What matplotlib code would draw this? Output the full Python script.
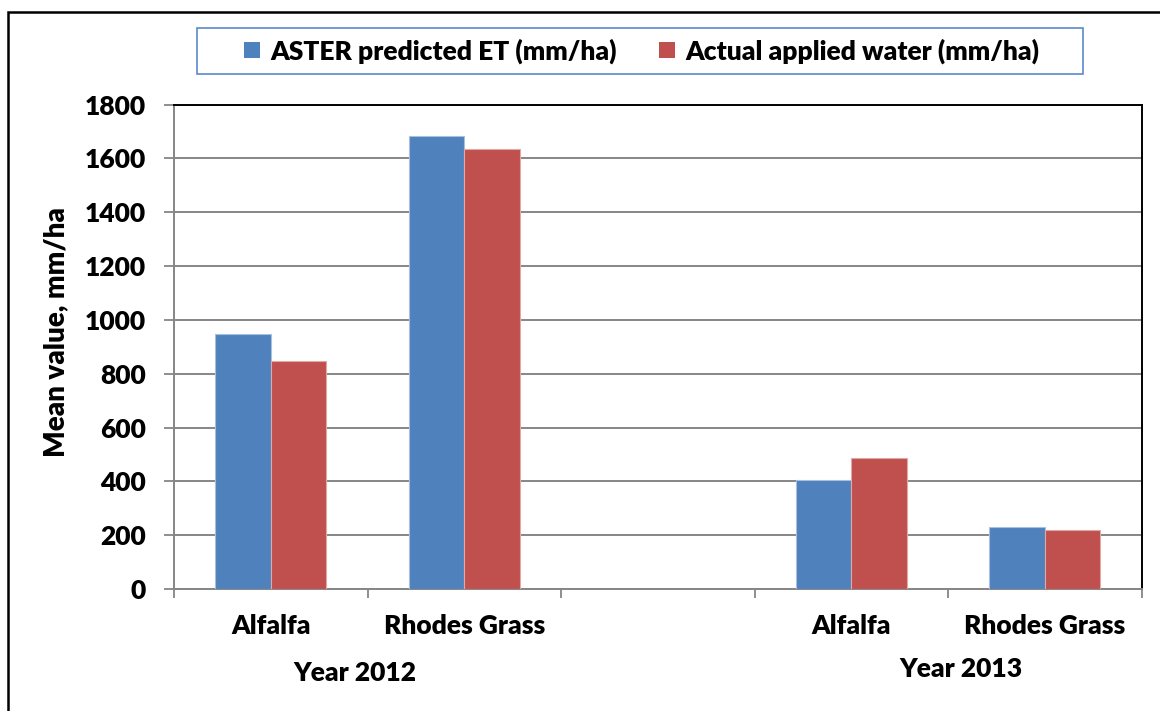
import matplotlib
matplotlib.use("Agg")
import matplotlib.pyplot as plt
from matplotlib.patches import Rectangle, Patch
import numpy as np

# mean values per crop, 2012 then 2013 (slot 3 is an empty spacer)
crops = ["Alfalfa", "Rhodes Grass", "", "Alfalfa", "Rhodes Grass"]
aster_et = [948, 1683, np.nan, 406, 230]
applied_water = [848, 1634, np.nan, 487, 220]
years = ["Year 2012", "Year 2013"]
series_names = ["ASTER predicted ET (mm/ha)", "Actual applied water (mm/ha)"]
yticks = [0, 200, 400, 600, 800, 1000, 1200, 1400, 1600, 1800]

WEIGHT = "heavy"
plt.rcParams["font.family"] = ["Lato", "DejaVu Sans"]
plt.rcParams["font.weight"] = WEIGHT

BLUE = "#4F81BD"
RED = "#C0504D"
GRID = "#868686"
FS = 19

fig = plt.figure(figsize=(11.6, 7.11), dpi=100)
W, H = 1160, 711
ax = fig.add_axes([174 / W, 1 - 589 / H, (1141.5 - 174) / W, (589 - 104.6) / H])

x = np.arange(len(crops)) + 0.5
bw = 0.286
ax.bar(x - bw / 2, aster_et, bw, color=BLUE, edgecolor="#A7C0DE", linewidth=0.8, zorder=3)
ax.bar(x + bw / 2, applied_water, bw, color=RED, edgecolor="#E0A8A6", linewidth=0.8, zorder=3)

ax.set_xlim(0, len(crops))
ax.set_ylim(0, 1800)
ax.set_yticks(yticks)
ax.set_yticklabels([str(v) for v in yticks], fontsize=FS, fontweight=WEIGHT)
ax.yaxis.grid(True, color=GRID, linewidth=1.4, zorder=0)
ax.set_axisbelow(True)

# boundary ticks between categories, labels at the slot centres
ax.set_xticks(np.arange(len(crops) + 1))
ax.set_xticklabels([])
ax.set_xticks(x, minor=True)
ax.set_xticklabels(crops, minor=True, fontsize=FS, fontweight=WEIGHT)
ax.tick_params(axis="x", which="minor", length=0, pad=18)
ax.tick_params(axis="x", which="major", length=6.5, color=GRID, width=1.3)
ax.tick_params(axis="y", length=7, color=GRID, width=1.3, pad=13)

for side in ("left", "bottom"):
    ax.spines[side].set_color(GRID)
    ax.spines[side].set_linewidth(1.4)
for side in ("top", "right"):
    ax.spines[side].set_color("black")
    ax.spines[side].set_linewidth(1.4)

ax.set_ylabel("Mean value, mm/ha", fontsize=20, fontweight=WEIGHT)
ax.yaxis.set_label_coords(-0.108, 0.53)

fig.text(355 / W, 1 - 673 / H, years[0], ha="center", va="center", fontsize=FS, fontweight=WEIGHT)
fig.text(961 / W, 1 - 669 / H, years[1], ha="center", va="center", fontsize=FS, fontweight=WEIGHT)

handles = [Patch(facecolor=BLUE), Patch(facecolor=RED)]
leg = fig.legend(handles, series_names, loc="center", ncol=2,
                 bbox_to_anchor=(642 / W, 1 - 51 / H), fontsize=FS,
                 frameon=False, handlelength=0.6, handleheight=0.6,
                 handletextpad=0.4, columnspacing=1.6, borderaxespad=0)
for t in leg.get_texts():
    t.set_fontweight(WEIGHT)

# legend box drawn separately so it can be wider than the entries
fig.patches.append(Rectangle((197 / W, 1 - 74 / H), (1083 - 197) / W, 46 / H,
                             transform=fig.transFigure, fill=False,
                             edgecolor="#5B8ACB", linewidth=1.2))

# outer chart border
fig.patches.append(Rectangle((8 / W, -0.1), 1.2, 1 - 12 / H + 0.1, transform=fig.transFigure,
                             fill=False, edgecolor="black", linewidth=1.8))

fig.savefig("out.png", dpi=100)
